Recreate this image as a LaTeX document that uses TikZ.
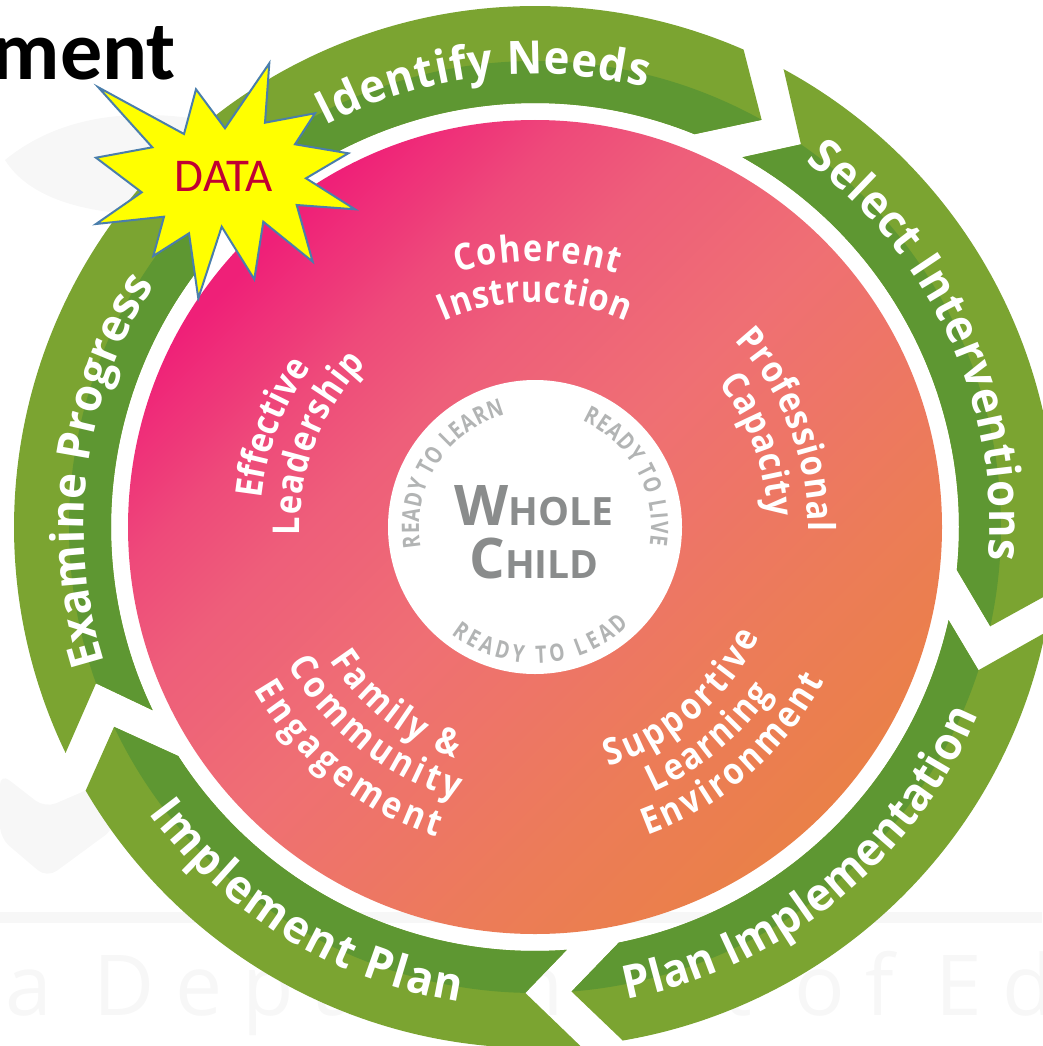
\documentclass[tikz,border=0pt]{standalone}
\usepackage{fontspec}
\usetikzlibrary{decorations.text,positioning}
\newfontfamily\hubfont{Open Sans}
\newfontfamily\ringfont[FakeStretch=0.95]{Open Sans}
\newfontfamily\discfont[FakeStretch=0.88]{Open Sans}
\newfontfamily\readyfont[FakeStretch=0.8]{Open Sans}
\newfontfamily\ghostfont[LetterSpace=24]{Open Sans}
\newfontfamily\titlefont{Carlito}
\definecolor{ringlight}{HTML}{7BA431}
\definecolor{ringdark}{HTML}{5E9732}
\definecolor{discpink}{HTML}{EF2078}
\definecolor{discrose}{HTML}{EE4A7A}
\definecolor{discsoft}{HTML}{EE5E7A}
\definecolor{discmid}{HTML}{EF6F74}
\definecolor{discpeach}{HTML}{EC7C58}
\definecolor{discorange}{HTML}{EA8048}
\definecolor{hubgray}{HTML}{8A8C8C}
\definecolor{readygray}{HTML}{B2B4B4}
\definecolor{starblue}{HTML}{4A7EAB}
\definecolor{staryellow}{HTML}{FFFF00}
\definecolor{datared}{HTML}{C00033}
\definecolor{ghost}{HTML}{F7F7F7}
\pgfdeclareverticalshading{discshade}{100bp}{color(0bp)=(discorange); color(25bp)=(discorange); color(35bp)=(discpeach); color(50bp)=(discmid); color(60bp)=(discsoft); color(66bp)=(discrose); color(74bp)=(discpink); color(100bp)=(discpink)}
\tikzset{
  ringlabel/.style={decorate,decoration={text along path,text align=fit to path,text color=white,text={#1}}},
  readylabel/.style={decorate,decoration={text along path,text align=fit to path,text color=readygray,text={#1}}},
}
% arc from #2 to #3 at radius #1
\newcommand{\ringtext}[4]{\path[ringlabel={|\ringfont\bfseries\fontsize{46}{46}\selectfont|#4}] (#2:#1) arc[start angle=#2,end angle=#3,radius=#1];}
\newcommand{\disctext}[4]{\path[ringlabel={|\discfont\bfseries\fontsize{37}{37}\selectfont|#4}] (#2:#1) arc[start angle=#2,end angle=#3,radius=#1];}
\newcommand{\readytext}[4]{\path[readylabel={|\readyfont\bfseries\fontsize{24}{24}\selectfont|#4}] (#2:#1) arc[start angle=#2,end angle=#3,radius=#1];}
\begin{document}
\begin{tikzpicture}[x=1pt,y=1pt]
\useasboundingbox (0,-1046) rectangle (1042,0);

% faint watermark
\fill[ghost] (5,-160) .. controls (60,-115) and (130,-110) .. (190,-118) -- (160,-215) .. controls (90,-215) and (30,-200) .. (5,-160);
\fill[ghost,rounded corners=12pt] (0,-773) -- (45,-808) -- (110,-780) -- (115,-828) -- (47,-878) -- (0,-838) -- cycle;
\fill[ghost] (0,-912) rectangle (1042,-923);
\node[anchor=base west,inner sep=0pt,text=ghost,font=\ghostfont\fontsize{84}{84}\selectfont] (mark) at (5,-1015) {a Department of Ed};

\begin{scope}[shift={(535,-527)}]
\path[shading=discshade,shading angle=45] (0,0) circle[radius=407];

% ring arrows
\foreach \tailout/\notch/\tailin/\headin/\tip/\headout in {
  132/127/132/67.9/60.9/66.4,
  61.5/55.2/60.7/-5.8/-12.3/-7.2,
  -11.7/-17.9/-12.7/-78.6/-85.5/-80.3,
  -85/-91.2/-85.7/-147.3/-154.6/-149.6,
  -154.3/-160.4/-154.4/-220/-227/-222}{
  \fill[ringlight] (\tailout:521) arc[start angle=\tailout,end angle=\headout,radius=521] -- (\tip:466) -- (\headin:424) arc[start angle=\headin,end angle=\tailin,radius=424] -- (\notch:466) -- cycle;
  \fill[ringdark] (\notch:466) arc[start angle=\notch,end angle=\tip,radius=466] -- (\headin:424) arc[start angle=\headin,end angle=\tailin,radius=424] -- cycle;
}

\ringtext{453}{117.5}{75.8}{Identify Needs}
\ringtext{455}{53.5}{-4.2}{Select Interventions}
\ringtext{481}{-79}{-23}{Plan Implementation}
\ringtext{481}{-143.5}{-99}{Implement Plan}
\ringtext{451}{197.5}{147.5}{Examine Progress}

% disc labels
\disctext{266}{107}{72}{Coherent}
\disctext{225}{114}{66}{Instruction}
\disctext{275}{174}{146}{Effective}
\disctext{235}{182}{136}{Leadership}
\disctext{273}{43}{-1}{Professional}
\disctext{233}{38}{2.5}{Capacity}
\disctext{250}{-73}{-26}{Supportive}
\disctext{290}{-66}{-35}{Learning}
\disctext{328}{-70}{-28}{Environment}
\disctext{245}{-147}{-109}{Family {\&}}
\disctext{283}{-151}{-106}{Community}
\disctext{325}{-150}{-107.5}{Engagement}

% hub
\fill[white] (0,0) circle[radius=147];
\readytext{116}{190}{105}{READY TO LEARN}
\readytext{116}{66}{-9}{READY TO LIVE}
\readytext{136}{-128}{-46}{READY TO LEAD}
\end{scope}

\node[text=hubgray,font=\hubfont\bfseries\fontsize{39}{39}\selectfont,anchor=base] (whole) at (534,-525) {{\fontsize{56}{56}\selectfont W}HOLE};
\node[text=hubgray,font=\hubfont\bfseries\fontsize{39}{39}\selectfont,anchor=base] (child) at (534,-578) {{\fontsize{56}{56}\selectfont C}HILD};

% title
\node[anchor=base east,inner sep=0pt,font=\titlefont\bfseries\fontsize{84}{84}\selectfont] (title) at (176,-80) {ment};
\node[anchor=base west,inner sep=0pt,font=\titlefont\bfseries\fontsize{80}{80}\selectfont] (titleup) at (68,12) {y};

% burst
\begin{scope}[yscale=-1]
\draw[starblue,line width=2pt,fill=staryellow,line join=miter] (269.3,63.3) -- (265,122.7) -- (315,113.3) -- (295,144.3) -- (348.3,153.3) -- (306,178.3) -- (355,209.3) -- (296.7,205) -- (312.7,261.7) -- (263.3,221.7) -- (254.3,279.3) -- (221.7,226.7) -- (198.3,298.3) -- (189,233.3) -- (153.3,256) -- (164,216.7) -- (96,224) -- (141.7,192.3) -- (96,157.7) -- (152.3,147.3) -- (98.3,87.3) -- (184,134) -- (196,89.3) -- (225,128.3) -- cycle;
\end{scope}
\node[text=datared,font=\titlefont\fontsize{47}{47}\selectfont,inner sep=0pt] (data) at (224,-176) {DATA};
\end{tikzpicture}
\end{document}
